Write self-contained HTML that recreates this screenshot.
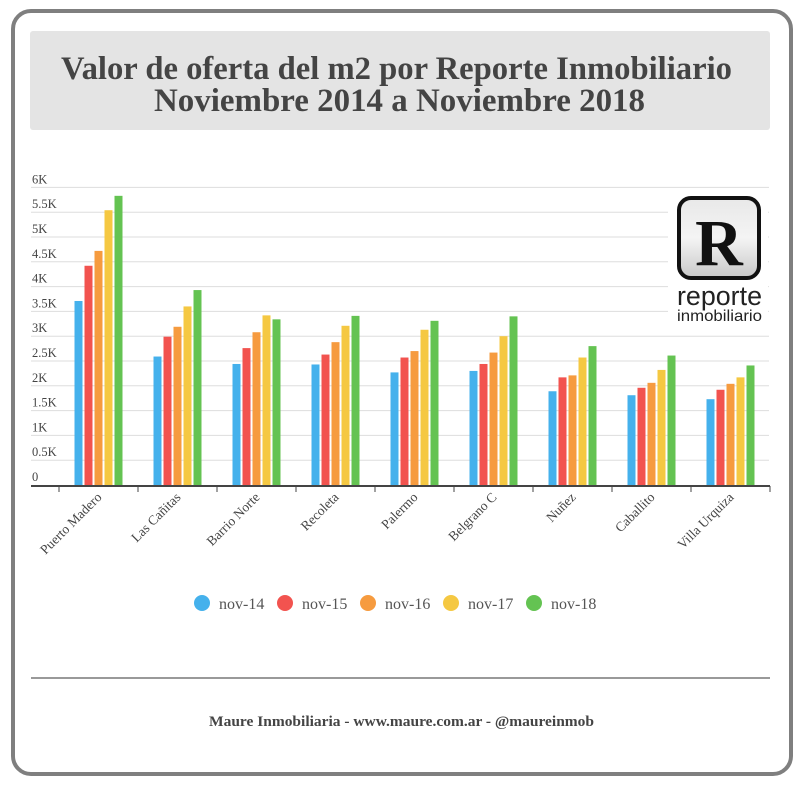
<!DOCTYPE html>
<html><head><meta charset="utf-8"><style>
body{margin:0;width:804px;height:785px;background:#fff;overflow:hidden;font-family:"Liberation Serif",serif}
</style></head><body>
<svg width="804" height="785" xmlns="http://www.w3.org/2000/svg" id="svg">
<rect x="13" y="11" width="778" height="763" rx="18" fill="#fff" stroke="#7f7f7f" stroke-width="4"/>
<rect x="30" y="31" width="740" height="99" rx="3" fill="#e4e4e4"/>
<text x="61" y="79" textLength="671" lengthAdjust="spacingAndGlyphs" font-size="33" font-weight="bold" fill="#444">Valor de oferta del m2 por Reporte Inmobiliario</text>
<text x="154" y="111" textLength="491" lengthAdjust="spacingAndGlyphs" font-size="33" font-weight="bold" fill="#444">Noviembre 2014 a Noviembre 2018</text>
<g id="grid"></g>
<g id="ylabels"></g>
<g id="bars"></g>
<g id="logo">
<rect x="668" y="190" width="100" height="138" fill="#fff"/>
<defs><linearGradient id="lg" x1="0" y1="0" x2="0" y2="1"><stop offset="0" stop-color="#e8e8e8"/><stop offset="0.5" stop-color="#f4f4f4"/><stop offset="1" stop-color="#c8c8c8"/></linearGradient></defs>
<rect x="679" y="198" width="80" height="80" rx="12" fill="url(#lg)" stroke="#111" stroke-width="4"/>
<text x="719" y="265" text-anchor="middle" font-size="66" font-weight="bold" fill="#111" font-family="Liberation Serif,serif">R</text>
<text x="677" y="305" textLength="85" lengthAdjust="spacingAndGlyphs" font-size="27" fill="#222" font-family="Liberation Sans,sans-serif">reporte</text>
<text x="677" y="321" textLength="85" lengthAdjust="spacingAndGlyphs" font-size="16" fill="#222" font-family="Liberation Sans,sans-serif">inmobiliario</text>
</g>
<line x1="31" y1="486" x2="770" y2="486" stroke="#444" stroke-width="2"/>
<g id="xlabels"></g>
<g id="legend"></g>
<line x1="31" y1="678" x2="770" y2="678" stroke="#999" stroke-width="2"/>
<text x="209" y="726" textLength="385" lengthAdjust="spacingAndGlyphs" font-size="15" font-weight="bold" fill="#444">Maure Inmobiliaria - www.maure.com.ar - @maureinmob</text>
</svg>
<script>
const categories=["Puerto Madero","Las Cañitas","Barrio Norte","Recoleta","Palermo","Belgrano C","Nuñez","Caballito","Villa Urquiza"];
const seriesNames=["nov-14","nov-15","nov-16","nov-17","nov-18"];
const nov14=[3710,2590,2440,2430,2270,2300,1890,1810,1730];
const nov15=[4420,2990,2760,2630,2570,2440,2170,1960,1920];
const nov16=[4720,3190,3080,2880,2700,2670,2210,2060,2040];
const nov17=[5540,3600,3420,3210,3130,3000,2570,2320,2170];
const nov18=[5830,3930,3340,3410,3310,3400,2800,2610,2410];
const yTicks=[0,500,1000,1500,2000,2500,3000,3500,4000,4500,5000,5500,6000];
const yTickLabels=["0","0.5K","1K","1.5K","2K","2.5K","3K","3.5K","4K","4.5K","5K","5.5K","6K"];
const colors=["#45b1ec","#f2534f","#f69b3f","#f5c842","#64c352"];
const series=[nov14,nov15,nov16,nov17,nov18];
const NS="http://www.w3.org/2000/svg";
const y0=485,yPer=49.6/1000;
const yScale=v=>y0-v*yPer;
const bandStart=59,bandW=79;
const xBand=i=>bandStart+i*bandW;
function mk(tag,attrs,parent){const e=document.createElementNS(NS,tag);for(const k in attrs)e.setAttribute(k,attrs[k]);parent.appendChild(e);return e;}
const grid=document.getElementById('grid'),yl=document.getElementById('ylabels'),bars=document.getElementById('bars'),xl=document.getElementById('xlabels'),lg=document.getElementById('legend');
yTicks.forEach((t,i)=>{
  if(t>0){const l=mk('line',{x1:31,x2:769,y1:yScale(t),y2:yScale(t),stroke:'#ddd','stroke-width':1},grid);
  
  }
  const tx=mk('text',{x:32,y:yScale(t)-4,'font-size':12.5,fill:'#444'},yl);tx.textContent=yTickLabels[i];
  
  
});
categories.forEach((c,i)=>{
  const cx=xBand(i)+bandW/2;
  series.forEach((s,j)=>{
    const x=cx-24+j*10;
    const r=mk('rect',{x:x,y:yScale(s[i]),width:8,height:y0-yScale(s[i]),fill:colors[j]},bars);
    
    
  });
  const tk=mk('line',{x1:xBand(i),x2:xBand(i),y1:486,y2:492,stroke:'#444','stroke-width':1},xl);
  
  
  const t=mk('text',{x:cx+4,y:498,'text-anchor':'end','font-size':13.5,fill:'#444',transform:`rotate(-45 ${cx+4} 498)`},xl);
  t.textContent=c;
  
  
});
const tk=mk('line',{x1:xBand(9),x2:xBand(9),y1:486,y2:492,stroke:'#444','stroke-width':1},xl);


seriesNames.forEach((n,j)=>{
  const cx=202+j*83;
  const g=mk('g',{},lg);
  
  
  mk('circle',{cx:cx,cy:603,r:8,fill:colors[j]},g);
  const t=mk('text',{x:cx+17,y:609,'font-size':16,fill:'#555'},g);t.textContent=n;
});
</script>
</body></html>
